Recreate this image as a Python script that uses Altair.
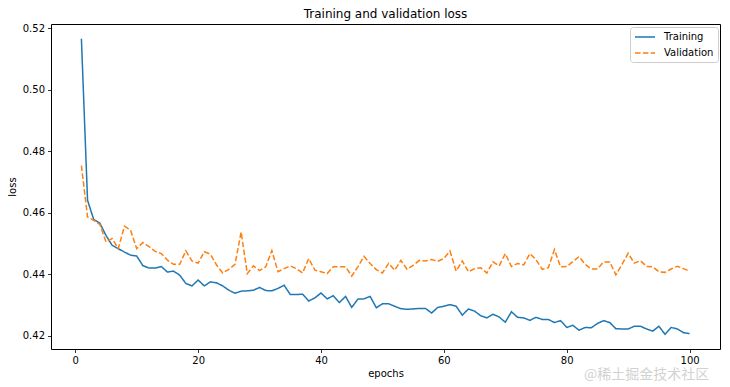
import altair as alt
import pandas as pd

epochs = list(range(1, 101))

training = [
    0.5165, 0.4640, 0.4578, 0.4566, 0.4526, 0.4494, 0.4483, 0.4472, 0.4462, 0.4459,
    0.4428, 0.4420, 0.4420, 0.4425, 0.4407, 0.4410, 0.4397, 0.4370, 0.4362, 0.4381,
    0.4362, 0.4375, 0.4372, 0.4362, 0.4348, 0.4338, 0.4345, 0.4346, 0.4348, 0.4357,
    0.4347, 0.4346, 0.4354, 0.4364, 0.4334, 0.4334, 0.4335, 0.4313, 0.4323, 0.4339,
    0.4320, 0.4330, 0.4308, 0.4328, 0.4292, 0.4319, 0.4320, 0.4328, 0.4291, 0.4304,
    0.4304, 0.4296, 0.4288, 0.4286, 0.4287, 0.4289, 0.4289, 0.4274, 0.4292, 0.4296,
    0.4301, 0.4296, 0.4267, 0.4287, 0.4280, 0.4265, 0.4258, 0.4270, 0.4261, 0.4244,
    0.4278, 0.4260, 0.4258, 0.4250, 0.4260, 0.4253, 0.4253, 0.4243, 0.4249, 0.4227,
    0.4234, 0.4218, 0.4227, 0.4226, 0.4240, 0.4249, 0.4243, 0.4223, 0.4222, 0.4222,
    0.4231, 0.4231, 0.4222, 0.4215, 0.4231, 0.4205, 0.4227, 0.4222, 0.4210, 0.4207,
]

validation = [
    0.4753, 0.4586, 0.4575, 0.4562, 0.4505, 0.4516, 0.4483, 0.4556, 0.4543, 0.4483,
    0.4503, 0.4490, 0.4474, 0.4467, 0.4446, 0.4432, 0.4432, 0.4476, 0.4443, 0.4436,
    0.4473, 0.4465, 0.4430, 0.4404, 0.4416, 0.4432, 0.4537, 0.4402, 0.4427, 0.4412,
    0.4424, 0.4477, 0.4408, 0.4418, 0.4427, 0.4418, 0.4404, 0.4451, 0.4413, 0.4408,
    0.4402, 0.4424, 0.4424, 0.4424, 0.4394, 0.4424, 0.4458, 0.4435, 0.4415, 0.4404,
    0.4435, 0.4413, 0.4445, 0.4416, 0.4429, 0.4445, 0.4443, 0.4448, 0.4442, 0.4451,
    0.4475, 0.4410, 0.4443, 0.4408, 0.4418, 0.4421, 0.4404, 0.4440, 0.4427, 0.4467,
    0.4425, 0.4435, 0.4430, 0.4467, 0.4447, 0.4416, 0.4421, 0.4480, 0.4424, 0.4425,
    0.4441, 0.4457, 0.4432, 0.4417, 0.4417, 0.4440, 0.4440, 0.4398, 0.4432, 0.4468,
    0.4436, 0.4444, 0.4425, 0.4424, 0.4408, 0.4406, 0.4417, 0.4426, 0.4418, 0.4410,
]

series_names = ["Training", "Validation"]
series_colors = ["#1f77b4", "#ff7f0e"]
x_ticks = [0, 20, 40, 60, 80, 100]
y_ticks = [0.42, 0.44, 0.46, 0.48, 0.50, 0.52]
watermark = ["@稀土掘金技术社区"]

df = pd.DataFrame({
    "epochs": epochs * 2,
    "loss": training + validation,
    "series": [series_names[0]] * len(epochs) + [series_names[1]] * len(epochs),
})

FONT = "DejaVu Sans"

legend_opts = dict(
    title=None, orient="none", legendX=579, legendY=3,
    symbolType="M-2,0L2,0", symbolSize=100, symbolOffset=5,
    symbolStrokeWidth=1.5, labelFontSize=10, labelFont=FONT, labelColor="#000",
    labelOffset=13, rowPadding=5, padding=4,
    fillColor="white", strokeColor="#cccccc", cornerRadius=3,
)

lines = alt.Chart(df).mark_line(strokeWidth=1.5).encode(
    x=alt.X("epochs:Q",
            scale=alt.Scale(domain=[-3.95, 104.95], nice=False, zero=False),
            axis=alt.Axis(values=x_ticks, title="epochs", format="d")),
    y=alt.Y("loss:Q",
            scale=alt.Scale(domain=[0.4157, 0.5213], nice=False, zero=False),
            axis=alt.Axis(values=y_ticks, title="loss", format=".2f")),
    color=alt.Color("series:N",
                    scale=alt.Scale(domain=series_names, range=series_colors),
                    legend=alt.Legend(**legend_opts)),
    strokeDash=alt.StrokeDash("series:N",
                              scale=alt.Scale(domain=series_names,
                                              range=[[1, 0], [5.5, 2.4]]),
                              legend=alt.Legend(**legend_opts)),
)

wm_df = pd.DataFrame({"t": watermark})
wm = alt.Chart(wm_df).mark_text(
    align="left", baseline="middle", font="Noto Sans CJK SC", fontSize=14,
    color="#d2d2d2"
).encode(text="t:N", x=alt.value(533), y=alt.value(351))

chart = alt.layer(lines, wm).properties(
    width=669, height=325,
    title=alt.TitleParams("Training and validation loss", fontSize=12,
                          fontWeight="normal", font=FONT, color="#000",
                          anchor="middle", offset=2),
    autosize=alt.AutoSizeParams(type="none"),
    padding={"left": 43, "top": 16, "right": 2, "bottom": 34},
).configure_view(
    stroke="#000", strokeWidth=1
).configure_axis(
    grid=False, domain=False, tickColor="#000", tickSize=3.5, tickWidth=0.8,
    labelFontSize=10, labelFont=FONT, labelColor="#000", labelPadding=3,
    titleFontSize=10, titleFont=FONT, titleColor="#000", titleFontWeight="normal",
).configure_axisX(titlePadding=3).configure_axisY(titlePadding=5)

chart.save("out.html", embed_options={"renderer": "svg", "actions": False})
